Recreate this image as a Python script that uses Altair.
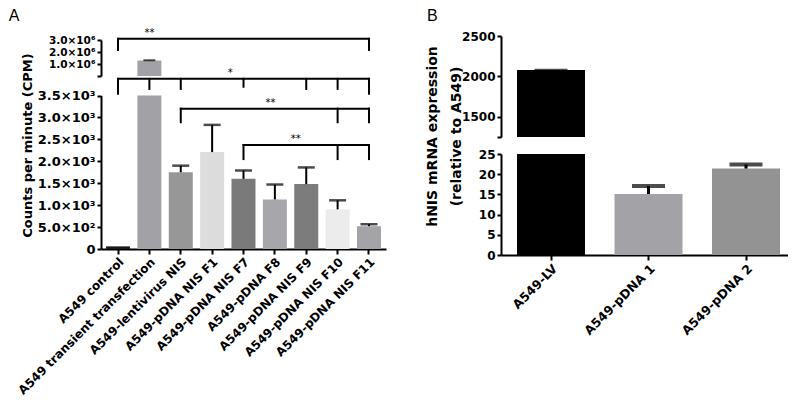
import altair as alt
import pandas as pd

# ---------------- Panel A data ----------------
cats_a = ["A549 control", "A549 transient transfection", "A549-lentivirus NIS",
          "A549-pDNA NIS F1", "A549-pDNA NIS F7", "A549-pDNA F8",
          "A549-pDNA NIS F9", "A549-pDNA NIS F10", "A549-pDNA NIS F11"]
means_a = [60, 1290000, 1750, 2210, 1600, 1130, 1480, 905, 520]
errs_a = [0, 20000, 150, 620, 190, 340, 380, 205, 45]
colors_a = ["#1a1a1a", "#a2a2a6", "#979797", "#dcdcdc", "#7a7a7a",
            "#a7a7ab", "#7c7c7c", "#ececec", "#a4a4a8"]

# significance brackets (panel A)
br_left = ["A549 control", "A549 control", "A549-lentivirus NIS", "A549-pDNA NIS F7"]
br_right = ["A549-pDNA NIS F11", "A549-pDNA NIS F11", "A549-pDNA NIS F11", "A549-pDNA NIS F11"]
br_level = [3100000, 3880, 3200, 2370]
br_segment = ["upper", "lower", "lower", "lower"]
br_text = ["**", "*", "**", "**"]
br_text_cat = ["A549 transient transfection", "A549-pDNA NIS F1", "A549-pDNA NIS F7", "A549-pDNA F8"]
br_text_dx = [0, 18, 27, 21]

tip_bracket = [0, 0, 1, 1, 1, 1, 1, 1, 1, 2, 2, 2, 3, 3, 3]
tip_cat = ["A549 control", "A549-pDNA NIS F11",
           "A549 control", "A549 transient transfection", "A549-lentivirus NIS",
           "A549-pDNA NIS F7", "A549-pDNA NIS F9", "A549-pDNA NIS F10", "A549-pDNA NIS F11",
           "A549-lentivirus NIS", "A549-pDNA NIS F10", "A549-pDNA NIS F11",
           "A549-pDNA NIS F7", "A549-pDNA NIS F10", "A549-pDNA NIS F11"]
tip_end = [2170000, 2170000, 3540, 3650, 3650, 3700, 3650, 3650, 3540,
           2890, 2890, 2890, 2050, 2050, 2050]

# ---------------- Panel B data ----------------
cats_b = ["A549-LV", "A549-pDNA 1", "A549-pDNA 2"]
means_b = [2080, 15.1, 21.4]
errs_b = [6, 2.0, 1.0]
colors_b = ["#000000", "#a3a3a7", "#939393"]

# ---------------- tables ----------------
df_a = pd.DataFrame({"cat": cats_a, "mean": means_a, "err": errs_a})
df_a["top"] = df_a["mean"] + df_a["err"]
df_br = pd.DataFrame({"cat": br_left, "right": br_right, "level": br_level,
                      "seg": br_segment, "label": br_text, "lcat": br_text_cat})
df_tip = pd.DataFrame({"cat": tip_cat, "end": tip_end,
                       "level": [br_level[i] for i in tip_bracket],
                       "seg": [br_segment[i] for i in tip_bracket]})
df_b = pd.DataFrame({"line": cats_b, "val": means_b, "err": errs_b})
df_b["top"] = df_b["val"] + df_b["err"]

FONT = "DejaVu Sans"

A_W, A_H = 285, 223
B_W, B_H = 287, 229
A_UP = ([0, 3000000], [50, 14])
A_LO = ([0, 3500], [223, 69.5])
B_UP = ([1250, 2500], [111, 10])
B_LO = ([0, 25], [229, 128])


def ysc(seg, clamp):
    return alt.Scale(domain=seg[0], range=seg[1], clamp=clamp, zero=False, nice=False)


# ---------------- Panel A ----------------
xa_scale = alt.Scale(domain=cats_a, paddingInner=0.235, paddingOuter=0.16, align=0.5)
xa_axis = alt.Axis(title=None, labelAngle=-45, labelFontSize=12, tickSize=5,
                   labelPadding=2, labelAlign="right", labelBaseline="top",
                   labelLimit=400)


def xa(field="cat", center=False):
    if center:
        return alt.X(f"{field}:N", scale=xa_scale, axis=xa_axis, bandPosition=0.5)
    return alt.X(f"{field}:N", scale=xa_scale, axis=xa_axis)


color_a = alt.Color("cat:N", scale=alt.Scale(domain=cats_a, range=colors_a), legend=None)

axis_a_lo = alt.Axis(orient="left", values=[0, 500, 1000, 1500, 2000, 2500, 3000, 3500],
                     labelExpr="datum.value == 0 ? '0' : (datum.value < 1000 ? format(datum.value/100, '.1f') + '×10²' : format(datum.value/1000, '.1f') + '×10³')",
                     title="Counts per minute (CPM)", titleX=-67, titleY=119,
                     titleFontSize=13, titleFont=FONT, titleFontWeight="bold",
                     tickSize=4, labelFontSize=13, labelPadding=2, labelOverlap=False)
axis_a_up = alt.Axis(orient="left", values=[0, 1000000, 2000000, 3000000],
                     labelExpr="datum.value == 0 ? '' : format(datum.value/1000000, '.1f') + '×10⁶'",
                     title=None, tickSize=4, labelFontSize=10.5, labelPadding=2,
                     labelOverlap=False)

base_a = alt.Chart(df_a)
a_bars_lo = base_a.mark_bar().encode(
    x=xa(), y=alt.Y("mean:Q", scale=ysc(A_LO, True), axis=axis_a_lo),
    y2=alt.datum(0), color=color_a)
a_bars_up = base_a.transform_filter("datum.mean > 3500").mark_bar().encode(
    x=xa(), y=alt.Y("mean:Q", scale=ysc(A_UP, True), axis=axis_a_up),
    y2=alt.datum(0), color=color_a)
a_err_lo = base_a.transform_filter("datum.mean <= 3500 && datum.err > 0").mark_rule(
    strokeWidth=2, color="black").encode(
    x=xa(center=True), y=alt.Y("mean:Q", scale=ysc(A_LO, False), axis=None), y2="top:Q")
a_cap_lo = base_a.transform_filter("datum.mean <= 3500 && datum.err > 0").mark_tick(
    thickness=2.5, size=17, color="black").encode(
    x=xa(center=True), y=alt.Y("top:Q", scale=ysc(A_LO, False), axis=None))
a_err_up = base_a.transform_filter("datum.mean > 3500").mark_rule(
    strokeWidth=2, color="black").encode(
    x=xa(center=True), y=alt.Y("mean:Q", scale=ysc(A_UP, False), axis=None), y2="top:Q")
a_cap_up = base_a.transform_filter("datum.mean > 3500").mark_tick(
    thickness=2, size=12, color="black").encode(
    x=xa(center=True), y=alt.Y("top:Q", scale=ysc(A_UP, False), axis=None))

layers_a = [a_bars_lo, a_bars_up, a_err_lo, a_cap_lo, a_err_up, a_cap_up]

for seg, sc in (("lower", A_LO), ("upper", A_UP)):
    flt = f"datum.seg == '{seg}'"
    layers_a.append(alt.Chart(df_br).transform_filter(flt).mark_rule(
        strokeWidth=2, color="black", strokeCap="square").encode(
        x=xa(center=True), x2=alt.X2("right:N", bandPosition=0.5),
        y=alt.Y("level:Q", scale=ysc(sc, False), axis=None)))
    layers_a.append(alt.Chart(df_tip).transform_filter(flt).mark_rule(
        strokeWidth=2, color="black", strokeCap="square").encode(
        x=xa(center=True),
        y=alt.Y("level:Q", scale=ysc(sc, False), axis=None), y2="end:Q"))

for i in range(len(br_text)):
    sc = A_UP if br_segment[i] == "upper" else A_LO
    layers_a.append(alt.Chart(df_br.iloc[[i]]).mark_text(
        dx=br_text_dx[i], dy=-1, baseline="bottom", fontSize=10, font=FONT,
        color="black", fill="black").encode(
        x=xa("lcat", center=True),
        y=alt.Y("level:Q", scale=ysc(sc, False), axis=None),
        text="label:N"))

panel_a = alt.layer(*layers_a).resolve_scale(y="independent").properties(
    width=A_W, height=A_H,
    title=alt.TitleParams("A", anchor="start", frame="bounds", fontSize=16,
                          fontWeight="normal", font="Liberation Sans", dx=-7,
                          offset=2, color="black"))

# ---------------- Panel B ----------------
xb_scale = alt.Scale(domain=cats_b, paddingInner=0.3026, paddingOuter=0.1231, align=0.667)
xb_axis = alt.Axis(title=None, labelAngle=-45, labelFontSize=12.5, tickSize=5,
                   labelPadding=2, labelAlign="right", labelBaseline="top",
                   labelLimit=400)


def xb(center=False):
    if center:
        return alt.X("line:N", scale=xb_scale, axis=xb_axis, bandPosition=0.5)
    return alt.X("line:N", scale=xb_scale, axis=xb_axis)


color_b = alt.Color("line:N", scale=alt.Scale(domain=cats_b, range=colors_b), legend=None)

axis_b_lo = alt.Axis(orient="left", values=[0, 5, 10, 15, 20, 25],
                     title=["hNIS mRNA expression", "(relative to A549)"],
                     titleX=-62, titleY=110, titleLineHeight=24,
                     titleFontSize=14, titleFont=FONT, titleFontWeight="bold",
                     tickSize=4, labelFontSize=12, labelPadding=2)
axis_b_up = alt.Axis(orient="left", values=[1250, 1500, 2000, 2500],
                     labelExpr="datum.value == 1250 ? '' : format(datum.value, 'd')",
                     title=None, tickSize=4, labelFontSize=12, labelPadding=2)

base_b = alt.Chart(df_b)
b_bars_lo = base_b.mark_bar().encode(
    x=xb(), y=alt.Y("val:Q", scale=ysc(B_LO, True), axis=axis_b_lo),
    y2=alt.datum(0), color=color_b)
b_bars_up = base_b.transform_filter("datum.val > 25").mark_bar().encode(
    x=xb(), y=alt.Y("val:Q", scale=ysc(B_UP, True), axis=axis_b_up),
    y2=alt.datum(1250), color=color_b)
b_err_lo = base_b.transform_filter("datum.val <= 25").mark_rule(
    strokeWidth=3, color="black").encode(
    x=xb(center=True), y=alt.Y("val:Q", scale=ysc(B_LO, False), axis=None), y2="top:Q")
b_cap_lo = base_b.transform_filter("datum.val <= 25").mark_tick(
    thickness=4, size=33, color="black").encode(
    x=xb(center=True), y=alt.Y("top:Q", scale=ysc(B_LO, False), axis=None))
b_cap_up = base_b.transform_filter("datum.val > 25").mark_tick(
    thickness=1.5, size=33, color="black").encode(
    x=xb(center=True), y=alt.Y("top:Q", scale=ysc(B_UP, False), axis=None))

panel_b = alt.layer(b_bars_lo, b_bars_up, b_err_lo, b_cap_lo, b_cap_up).resolve_scale(
    y="independent").properties(
    width=B_W, height=B_H,
    title=alt.TitleParams("B", anchor="start", frame="bounds", fontSize=16,
                          fontWeight="normal", font="Liberation Sans", dx=2,
                          offset=2, color="black"))

chart = alt.hconcat(panel_a, panel_b, spacing=38).resolve_scale(
    x="independent", color="independent").properties(padding=0).configure_view(
    stroke=None).configure_axis(
    domainColor="black", domainWidth=2, tickColor="black", tickWidth=2,
    labelFont=FONT, labelFontWeight="bold", labelColor="black", grid=False,
    titleColor="black")

chart.save("out.html", embed_options={"renderer": "svg", "actions": False})
